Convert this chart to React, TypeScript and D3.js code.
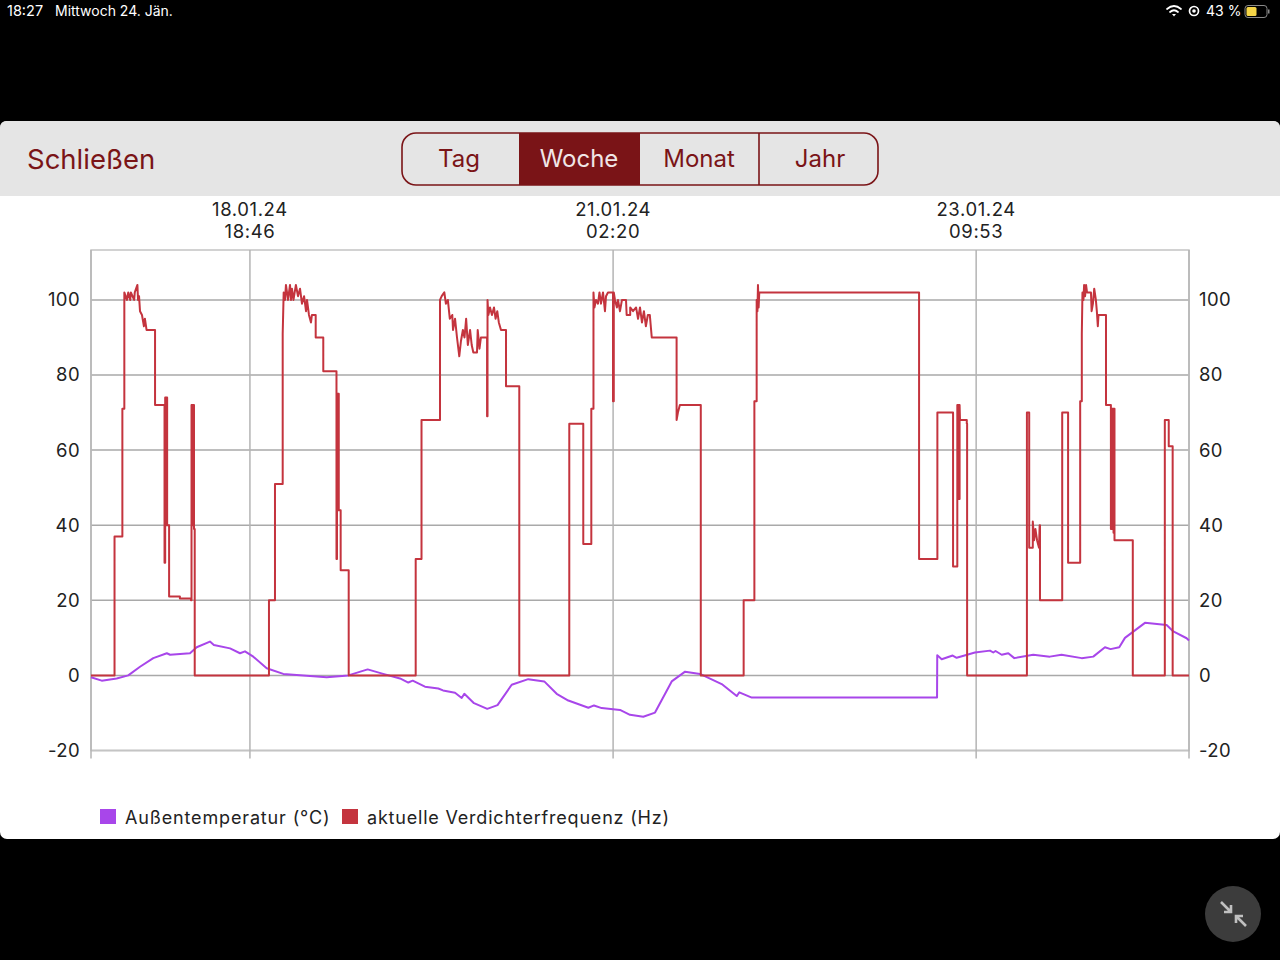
import React, { useEffect, useRef } from "react";
import * as d3 from "d3";

// hours since the start of the week window
const START = new Date(2024, 0, 17, 18, 27);
const END = new Date(2024, 0, 24, 18, 27);
const TIME_TICKS = [new Date(2024, 0, 18, 18, 46), new Date(2024, 0, 21, 2, 20), new Date(2024, 0, 23, 9, 53)];
const Y_TICKS = [-20, 0, 20, 40, 60, 80, 100];
const TABS = ["Tag", "Woche", "Monat", "Jahr"];

const tempHours = [0, 1.64, 3.93, 5.7, 7.5, 9.53, 11.6, 12.1, 15.15, 16.17, 18.2, 18.8, 21.27, 22.8, 23.56, 24.83, 26.88, 29.42, 33, 36.06, 39.37, 42.33, 44.7, 47.28, 48.55, 49.22, 51.1, 53.14, 53.86, 55.7, 56.72, 57.12, 58.6, 60.63, 62.2, 64.37, 66.9, 69.35, 71.25, 73.03, 76.1, 76.96, 78.14, 80.94, 82.47, 84.5, 86.3, 88.85, 90.9, 93.18, 96.5, 98.8, 99.2, 101.1, 129.45, 129.48, 130.16, 131.84, 132.45, 135.25, 137.55, 138.05, 138.4, 139.34, 140.35, 141.27, 144.17, 146.7, 148.5, 151.58, 153.35, 155.14, 156, 157.33, 158.2, 161.26, 164.58, 165.6, 167.64, 168];
const tempValues = [-0.5, -1.4, -0.8, 0, 2.3, 4.6, 5.9, 5.5, 5.9, 7.5, 9, 8.1, 7.2, 5.9, 6.4, 5, 1.9, 0.4, -0.1, -0.5, 0, 1.6, 0.4, -0.8, -1.9, -1.4, -3, -3.5, -4, -4.6, -6, -4.9, -7.4, -8.9, -7.9, -2.5, -1, -1.6, -4.9, -6.7, -8.6, -8, -8.7, -9.2, -10.5, -11, -9.9, -1.6, 1, 0.4, -2.3, -5.5, -4.5, -5.9, -5.9, 5.4, 4.3, 5.3, 4.7, 6.1, 6.6, 6.1, 6.5, 5.5, 5.9, 4.6, 5.5, 5, 5.5, 4.6, 5, 7.5, 7, 7.5, 10, 14, 13.4, 11.7, 9.9, 9.3];

const freqHours = [
  0, 3.6, 4.8, 5.1, 5.5, 5.7, 6.0, 6.1, 6.6, 6.7, 7.1, 7.2, 7.35, 7.5, 7.8, 8.1, 8.25, 8.5, 9.8, 11.25, 11.35, 11.45, 11.55, 11.65, 11.95, 13.6, 15.3, 15.38, 15.45, 15.53, 15.6, 15.68, 15.76, 15.87,
  27.23, 28.15, 29.33, 29.48, 29.68, 29.83, 29.99, 30.14, 30.45, 30.6, 30.75, 30.98, 31.35, 31.67, 31.98, 32.28, 32.6, 32.9, 33.05, 33.35, 33.66, 33.8, 34.38, 35.54, 37.56, 37.64, 37.73, 37.82, 37.91, 38.2, 39.43,
  49.68, 50.57, 53.4, 53.66, 54.06, 54.3, 54.6, 54.9, 55.28, 55.39, 55.7, 56, 56.35, 56.6, 56.9, 57.15, 57.4, 57.66, 58, 58.25, 58.5, 59.06, 59.17, 59.44, 59.66, 60.6, 60.67, 60.8, 61.05, 61.35, 61.66, 61.9, 62.16, 62.4, 62.73, 63.5, 65.53,
  73.18, 75.32, 76.55, 76.88, 77.03, 77.27, 77.57, 77.8, 78.03, 78.34, 78.64, 78.8, 79.1, 79.4, 79.87, 79.99, 80.17, 80.47, 80.63, 80.94, 81.24, 81.86, 81.96, 82.5, 82.93, 83.4, 83.7, 84, 84.3, 84.6, 84.9, 85.2, 85.5, 85.8, 89.6, 89.8, 90.1, 93.3,
  99.86, 101.5, 101.85, 101.97, 102.05, 102.15, 102.25, 126.7, 129.5, 131.9, 132.55, 132.65, 132.75, 132.8, 132.9, 132.96, 134, 134.05,
  143.2, 143.55, 144.1, 144.3, 144.5, 144.75, 145.05, 145.15, 145.2, 148.6, 149.5, 151.35, 151.6, 151.7, 151.85, 151.95, 152.1, 152.25, 152.4, 153, 153.1, 153.3, 153.5, 153.75, 153.9, 154.05, 154.15, 155.3, 156.05, 156.15, 156.25, 156.35, 156.45, 156.55, 156.6, 159.4,
  164.3, 164.9, 165.5, 168,
];
const freqValues = [
  0, 37, 71, 102, 100, 102, 100, 102, 100, 102, 104, 100, 101, 97, 96, 93, 95, 92, 72, 30, 74, 40, 74, 40, 21, 20.5, 20, 72, 40, 72, 40, 72, 39, 0,
  20, 51, 91, 102, 100, 104, 102, 100, 104, 100, 103, 100, 104, 101, 103, 99, 101, 97, 100, 96, 94, 96, 90, 81, 31, 75, 44, 75, 44, 28, 0,
  31, 68, 100, 101, 102, 99, 100, 95, 96, 92, 95, 90, 85, 89, 92, 90, 95, 88, 92, 88, 86, 86, 92, 87, 90, 69, 100, 96, 98, 96, 98, 95, 97, 94, 92, 77, 0,
  67, 35, 71, 102, 98, 100, 99, 102, 99, 102, 97, 101, 102, 102, 73, 102, 100, 98, 100, 97, 100, 100, 96, 98, 97, 98, 95, 98, 94, 97, 93, 96, 96, 90, 68, 70, 72, 0,
  20, 73, 100, 97, 104, 98, 102, 31, 70, 29, 72, 47, 72, 47, 72, 68, 67, 0,
  70, 34, 41, 36, 39, 36, 34, 40, 20, 70, 30, 73, 91, 102, 100, 104, 101, 104, 102, 102, 97, 99, 103, 100, 97, 93, 96, 72, 39, 71, 39, 71, 38, 71, 36, 0,
  68, 61, 0, 0,
];

const SANS = "Inter, 'Noto Sans', sans-serif";
const DARK_RED = "#7a1417";
const GRID = "#a9a9a9";
const TEMP_COLOR = "#a846ea";
const FREQ_COLOR = "#c4343e";

const margin = { top: 250, right: 91, bottom: 209.5, left: 91 };
const width = 1280 - margin.left - margin.right;
const height = 960 - margin.top - margin.bottom;

const hourToDate = (h: number) => new Date(START.getTime() + h * 3600000);

// the recorder holds its value on long gaps and big jumps; small quick changes are joined directly, which keeps the noise spiky
const HOLD_GAP = 0.5;
const HOLD_JUMP = 12;
const freqPoints: [number, number][] = [];
freqHours.forEach((h, i) => {
  if (i > 0 && (h - freqHours[i - 1] > HOLD_GAP || Math.abs(freqValues[i] - freqValues[i - 1]) >= HOLD_JUMP)) {
    freqPoints.push([h, freqValues[i - 1]]);
  }
  freqPoints.push([h, freqValues[i]]);
});

const App: React.FC = () => {
  const svgRef = useRef<SVGSVGElement>(null);

  useEffect(() => {
    const svg = d3.select(svgRef.current);
    svg.selectAll(".chart").remove();

    const g = svg
      .append("g")
      .attr("class", "chart")
      .attr("transform", `translate(${margin.left},${margin.top})`);

    const x = d3.scaleTime().domain([START, END]).range([0, width]);
    const y = d3.scaleLinear().domain([-20, 113.3]).range([height, 0]);

    // grid
    g.append("g")
      .selectAll("line")
      .data(Y_TICKS)
      .enter()
      .append("line")
      .attr("x1", 0)
      .attr("x2", width)
      .attr("y1", (d) => y(d))
      .attr("y2", (d) => y(d))
      .attr("stroke", GRID)
      .attr("stroke-width", 1.5);

    g.append("rect")
      .attr("width", width)
      .attr("height", height)
      .attr("fill", "none")
      .attr("stroke", "#c4c4c4")
      .attr("stroke-width", 1.5);

    const xAll = [START, ...TIME_TICKS, END];
    g.append("g")
      .selectAll("line")
      .data(xAll)
      .enter()
      .append("line")
      .attr("x1", (d) => x(d))
      .attr("x2", (d) => x(d))
      .attr("y1", 0)
      .attr("y2", height + 8)
      .attr("stroke", "#b4b4b4")
      .attr("stroke-width", 1.5);

    // axes only carry the labels
    const left = g.append("g").call(d3.axisLeft(y).tickValues(Y_TICKS).tickFormat((d) => String(d)).tickSize(0).tickPadding(11));
    const right = g
      .append("g")
      .attr("transform", `translate(${width},0)`)
      .call(d3.axisRight(y).tickValues(Y_TICKS).tickFormat((d) => String(d)).tickSize(0).tickPadding(10));
    [left, right].forEach((a) => {
      a.select(".domain").remove();
      a.selectAll("text").attr("font-family", SANS).attr("font-size", 18.5).attr("letter-spacing", 0.4).attr("fill", "#222");
    });

    const top = g.append("g").selectAll("g").data(TIME_TICKS).enter().append("g");
    top
      .append("text")
      .attr("x", (d) => x(d))
      .attr("y", -34)
      .attr("text-anchor", "middle")
      .attr("font-family", SANS)
      .attr("font-size", 18.5)
      .attr("letter-spacing", 0.6)
      .attr("fill", "#222")
      .text((d) => d3.timeFormat("%d.%m.%y")(d));
    top
      .append("text")
      .attr("x", (d) => x(d))
      .attr("y", -12)
      .attr("text-anchor", "middle")
      .attr("font-family", SANS)
      .attr("font-size", 18.5)
      .attr("letter-spacing", 0.6)
      .attr("fill", "#222")
      .text((d) => d3.timeFormat("%H:%M")(d));

    const tempLine = d3
      .line<number>()
      .x((d) => x(hourToDate(d)))
      .y((_, i) => y(tempValues[i]));
    const freqLine = d3
      .line<[number, number]>()
      .x((d) => x(hourToDate(d[0])))
      .y((d) => y(d[1]));

    g.append("path")
      .datum(tempHours)
      .attr("fill", "none")
      .attr("stroke", TEMP_COLOR)
      .attr("stroke-width", 2)
      .attr("stroke-linejoin", "round")
      .attr("d", tempLine);

    g.append("path")
      .datum(freqPoints)
      .attr("fill", "none")
      .attr("stroke", FREQ_COLOR)
      .attr("stroke-width", 2)
      .attr("stroke-linejoin", "round")
      .attr("d", freqLine);
  }, []);

  return (
    <svg
      ref={svgRef}
      width={1280}
      height={960}
      style={{ position: "absolute", top: 0, left: 0, background: "#000" }}
    >
      {/* status bar */}
      <text x={7} y={16} fill="#fff" fontFamily={SANS} fontSize={14.5}>18:27</text>
      <text x={55} y={16} fill="#fff" fontFamily={SANS} fontSize={14}>Mittwoch 24. Jän.</text>
      <g fill="none" stroke="#fff" strokeWidth={1.7} strokeLinecap="round">
        <path d="M1167 9 Q1174 3 1181 9" />
        <path d="M1170 12 Q1174 8.5 1178 12" />
        <circle cx={1194} cy={11} r={4.5} />
      </g>
      <path d="M1172 14 L1174 16.5 L1176 14 Z" fill="#fff" />
      <circle cx={1194} cy={11} r={1.8} fill="#fff" />
      <text x={1206} y={16} fill="#fff" fontFamily={SANS} fontSize={14}>43 %</text>
      <rect x={1245} y={5.5} width={22} height={12} rx={3} fill="none" stroke="#8a8a8a" />
      <rect x={1246.5} y={7} width={10} height={9} rx={1.5} fill="#f5d547" />
      <rect x={1268} y={9.5} width={1.5} height={4} fill="#8a8a8a" />

      {/* panel */}
      <rect x={0} y={121} width={1280} height={718} rx={7} fill="#fff" />
      <path d="M0 196 V128 Q0 121 7 121 H1273 Q1280 121 1280 128 V196 Z" fill="#e5e5e5" />
      <text x={27} y={169} fill={DARK_RED} fontFamily={SANS} fontSize={27.5}>Schließen</text>

      <rect x={402} y={133} width={476} height={52} rx={14} fill="none" stroke={DARK_RED} strokeWidth={1.6} />
      <rect x={519} y={133} width={121} height={52} fill={DARK_RED} />
      <line x1={759} x2={759} y1={133} y2={185} stroke={DARK_RED} strokeWidth={1.6} />
      {TABS.map((t, i) => (
        <text
          key={t}
          x={[459, 579, 699, 820][i]}
          y={167}
          textAnchor="middle"
          fill={t === "Woche" ? "#f0e6e6" : DARK_RED}
          fontFamily={SANS}
          fontSize={24}
        >
          {t}
        </text>
      ))}

      {/* legend */}
      <rect x={100} y={809} width={16} height={15} fill={TEMP_COLOR} />
      <text x={125} y={824} fill="#222" fontFamily={SANS} fontSize={18} letterSpacing={0.85}>Außentemperatur (°C)</text>
      <rect x={342} y={809} width={16} height={15} fill={FREQ_COLOR} />
      <text x={367} y={824} fill="#222" fontFamily={SANS} fontSize={18} letterSpacing={0.8}>aktuelle Verdichterfrequenz (Hz)</text>

      {/* minimize button */}
      <circle cx={1233} cy={914} r={28} fill="#3c3c3c" />
      <g fill="none" stroke="#c0c0c0" strokeWidth={2.6}>
        <path d="M1221 902 L1231 912 M1231 905 V912 H1224" />
        <path d="M1246 926 L1236 916 M1236 923 V916 H1243" />
      </g>
    </svg>
  );
};

export default App;
